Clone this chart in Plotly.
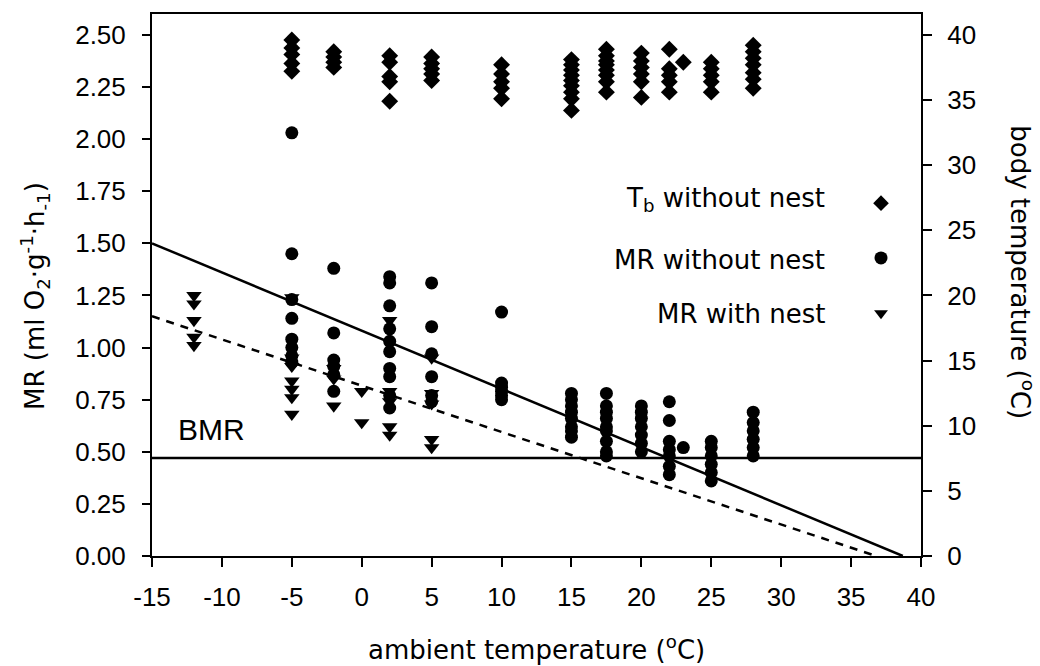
import plotly.graph_objects as go

# ---------------- data ----------------
# body temperature (Tb, deg C) without nest, by ambient temperature
tb_ta = ([-5] * 5 + [-2] * 4 + [2] * 5 + [5] * 5 + [10] * 5 + [15] * 9 + [17.5] * 8
         + [20] * 6 + [22] * 5 + [23] * 1 + [25] * 5 + [28] * 7)
tb_val = [39.6, 39.0, 38.5, 37.8, 37.2,
          38.7, 38.3, 37.9, 37.5,
          38.4, 37.9, 36.8, 36.4, 34.9,
          38.3, 37.8, 37.4, 37.0, 36.5,
          37.7, 37.0, 36.4, 35.9, 35.1,
          38.1, 37.7, 37.3, 36.9, 36.5, 36.1, 35.6, 35.1, 34.2,
          38.9, 38.4, 38.0, 37.7, 37.3, 36.9, 36.4, 35.6,
          38.6, 38.0, 37.5, 37.0, 36.4, 35.2,
          38.9, 37.4, 36.9, 36.4, 35.6,
          37.9,
          37.9, 37.4, 36.9, 36.4, 35.6,
          39.2, 38.7, 38.2, 37.7, 37.1, 36.6, 35.9]

# metabolic rate without nest
mr_ta = ([-5] * 8 + [-2] * 6 + [2] * 10 + [5] * 6 + [10] * 6 + [15] * 8 + [17.5] * 9
         + [20] * 7 + [22] * 7 + [23] * 1 + [25] * 6 + [28] * 6)
mr_val = [2.03, 1.45, 1.23, 1.14, 1.04, 1.00, 0.96, 0.93,
          1.38, 1.07, 0.94, 0.91, 0.87, 0.79,
          1.34, 1.31, 1.20, 1.09, 1.03, 0.98, 0.90, 0.86, 0.77, 0.71,
          1.31, 1.10, 0.97, 0.86, 0.77, 0.74,
          1.17, 0.83, 0.81, 0.79, 0.77, 0.75,
          0.78, 0.75, 0.72, 0.69, 0.66, 0.62, 0.60, 0.57,
          0.78, 0.72, 0.69, 0.66, 0.62, 0.60, 0.55, 0.50, 0.48,
          0.72, 0.69, 0.66, 0.62, 0.58, 0.54, 0.50,
          0.74, 0.65, 0.55, 0.51, 0.48, 0.43, 0.39,
          0.52,
          0.55, 0.52, 0.48, 0.44, 0.40, 0.36,
          0.69, 0.64, 0.60, 0.56, 0.52, 0.48]

# metabolic rate with nest
nest_ta = [-12] * 5 + [-5] * 7 + [-2] * 3 + [0] * 2 + [2] * 5 + [5] * 5
nest_val = [1.25, 1.21, 1.13, 1.05, 1.01,
            1.24, 0.95, 0.91, 0.84, 0.80, 0.76, 0.68,
            0.90, 0.85, 0.72,
            0.79, 0.64,
            1.13, 0.79, 0.74, 0.62, 0.58,
            0.95, 0.78, 0.73, 0.56, 0.52]

# regression lines and BMR
fit_nonest_x = [-15, 38.7]
fit_nonest_y = [1.50, 0.0]
fit_nest_x = [-15, 36.8]
fit_nest_y = [1.15, 0.0]
bmr_x = [-15, 40]
bmr_y = [0.47, 0.47]

x_ticks = [-15, -10, -5, 0, 5, 10, 15, 20, 25, 30, 35, 40]
x_tick_labels = ["-15", "-10", "-5", "0", "5", "10", "15", "20", "25", "30", "35", "40"]
mr_ticks = [0, 0.25, 0.5, 0.75, 1.0, 1.25, 1.5, 1.75, 2.0, 2.25, 2.5]
mr_tick_labels = ["0.00", "0.25", "0.50", "0.75", "1.00", "1.25", "1.50", "1.75",
                  "2.00", "2.25", "2.50"]
tb_ticks = [0, 5, 10, 15, 20, 25, 30, 35, 40]
tb_tick_labels = ["0", "5", "10", "15", "20", "25", "30", "35", "40"]

legend_labels = ["T<sub>b</sub> without nest", "MR without nest", "MR with nest"]
legend_symbols = ["diamond", "circle", "triangle-down"]

# ---------------- figure ----------------
TICKFONT = dict(family="Liberation Sans, Arial, sans-serif", size=26, color="black")
TITLEFONT = dict(family="DejaVu Sans, sans-serif", size=26, color="black")

fig = go.Figure()

fig.add_trace(go.Scatter(x=bmr_x, y=bmr_y, mode="lines",
                         line=dict(color="black", width=2.5), hoverinfo="skip"))
fig.add_trace(go.Scatter(x=fit_nonest_x, y=fit_nonest_y, mode="lines",
                         line=dict(color="black", width=2.5), hoverinfo="skip"))
fig.add_trace(go.Scatter(x=fit_nest_x, y=fit_nest_y, mode="lines",
                         line=dict(color="black", width=2.5, dash="8px,7px"), hoverinfo="skip"))

fig.add_trace(go.Scatter(x=tb_ta, y=tb_val, mode="markers", yaxis="y2",
                         marker=dict(symbol="diamond", size=13, color="black",
                                     line=dict(width=0))))
fig.add_trace(go.Scatter(x=mr_ta, y=mr_val, mode="markers",
                         marker=dict(symbol="circle", size=13, color="black",
                                     line=dict(width=0))))
fig.add_trace(go.Scatter(x=nest_ta, y=nest_val, mode="markers",
                         marker=dict(symbol="triangle-down", size=13.5, color="black",
                                     line=dict(width=0))))

# legend keys (symbols to the right of the labels)
key_y = [0.651, 0.550, 0.448]
for sym, ky in zip(legend_symbols, key_y):
    fig.add_trace(go.Scatter(x=[0.948], y=[ky], xaxis="x2", yaxis="y4", mode="markers",
                             marker=dict(symbol=sym, size=12 if sym != "circle" else 13,
                                         color="black", line=dict(width=0)),
                             hoverinfo="skip"))

text_y = [0.657, 0.546, 0.446]
annotations = []
for lab, ty in zip(legend_labels, text_y):
    annotations.append(dict(text=lab, x=0.878, y=ty, xref="paper", yref="paper",
                            xanchor="right", yanchor="middle", showarrow=False,
                            font=TITLEFONT))

annotations += [
    dict(text="BMR", x=0.078, y=0.234, xref="paper", yref="paper",
         xanchor="center", yanchor="middle", showarrow=False,
         font=dict(family="Liberation Sans, Arial, sans-serif", size=30, color="black")),
    dict(text="ambient temperature (<sup>o</sup>C)", x=0.5, y=-0.17, xref="paper", yref="paper",
         xanchor="center", yanchor="middle", showarrow=False, font=TITLEFONT),
    dict(text="MR (ml O<sub>2</sub>·g<sup>-1</sup>·h<sub>-1</sub>)", x=-0.152, y=0.48,
         xref="paper", yref="paper", xanchor="center", yanchor="middle",
         textangle=-90, showarrow=False, font=TITLEFONT),
    dict(text="body temperature (<sup>o</sup>C)", x=1.131, y=0.524,
         xref="paper", yref="paper", xanchor="center", yanchor="middle",
         textangle=90, showarrow=False, font=TITLEFONT),
]

hidden_axis = dict(range=[0, 1], showticklabels=False, ticks="", showgrid=False,
                   zeroline=False, showline=False, tickmode="array", tickvals=[])

fig.update_layout(
    width=1040, height=666,
    margin=dict(l=152, r=119, t=14, b=110),
    paper_bgcolor="white", plot_bgcolor="white",
    showlegend=False, hovermode=False,
    annotations=annotations,
    xaxis=dict(range=[-15, 40], tickmode="array", tickvals=x_ticks, ticktext=x_tick_labels,
               ticks="outside", ticklen=9, tickwidth=2,
               tickcolor="black", showline=True, linewidth=2, linecolor="black",
               mirror=True, showgrid=False, zeroline=False, tickfont=TICKFONT,
               ticklabelstandoff=8),
    yaxis=dict(range=[0, 2.6], tickmode="array", tickvals=mr_ticks, ticktext=mr_tick_labels,
               ticks="outside",
               ticklen=8, tickwidth=2, tickcolor="black", showline=True, linewidth=2,
               linecolor="black", showgrid=False, zeroline=False, tickfont=TICKFONT,
               ticklabelstandoff=11),
    yaxis2=dict(range=[0, 41.6], tickmode="array", tickvals=tb_ticks, ticktext=tb_tick_labels,
                overlaying="y", side="right",
                ticks="outside", ticklen=9, tickwidth=2, tickcolor="black", showline=True,
                linewidth=2, linecolor="black", showgrid=False, zeroline=False,
                tickfont=TICKFONT, ticklabelstandoff=10),
    yaxis3=dict(range=[0, 2.6], tickmode="array", tickvals=mr_ticks, overlaying="y",
                side="right", ticks="inside", ticklen=6, tickwidth=1.5, tickcolor="black",
                showticklabels=False, showline=False, showgrid=False, zeroline=False),
    xaxis2=dict(overlaying="x", anchor="y4", **hidden_axis),
    yaxis4=dict(overlaying="y", anchor="x2", **hidden_axis),
)

fig.write_html("out.html")
